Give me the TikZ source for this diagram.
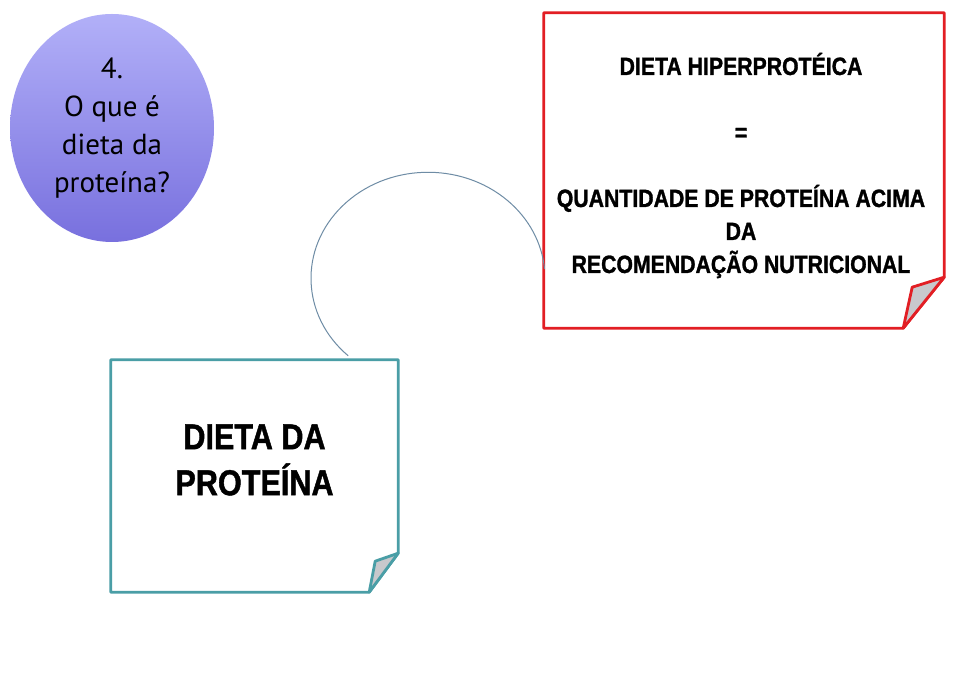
\documentclass[tikz,border=0pt]{standalone}
\usepackage{fontspec}
\setmainfont{Liberation Sans}
\newfontfamily\narrowfont[FakeStretch=0.85,BoldFeatures={FakeBold=1.2}]{Liberation Sans}
\newfontfamily\bubblefont{PT Sans}
\definecolor{bubbleTop}{RGB}{178,176,248}
\definecolor{bubbleBottom}{RGB}{120,112,222}
\definecolor{noteRed}{RGB}{226,30,36}
\definecolor{noteTeal}{RGB}{74,158,166}
\definecolor{foldGray}{RGB}{200,200,204}
\definecolor{arcBlue}{RGB}{110,140,165}
\usepackage{tikz}
\usetikzlibrary{shapes.geometric,positioning,calc}

\begin{document}
\begin{tikzpicture}[x=1pt,y=1pt,
    notebox/.style={rectangle,draw=none,inner sep=0pt},
    notetext/.style={align=center,font=\narrowfont\bfseries},
    fold/.style={fill=foldGray,line width=2.8pt,line join=round}]
        \useasboundingbox[fill=white] (0,0) rectangle (960,674);
        % question bubble
        \node[ellipse,minimum width=204,minimum height=228,inner sep=0pt,
          top color=bubbleTop,bottom color=bubbleBottom,
          font=\bubblefont\fontsize{29}{38}\selectfont,align=center]
          (question) at (112,546) {4.\\O que é\\dieta da\\proteína?};
        % red note
        \node[notebox,minimum width=400,minimum height=315] (redbox) at (744,503.5) {};
        \node[notetext,font=\narrowfont\bfseries\fontsize{25}{33}\selectfont]
          (redtext) at ([xshift=-3,yshift=5]redbox.center)
          {DIETA HIPERPROTÉICA\\[33pt]=\\[33pt]QUANTIDADE DE PROTEÍNA ACIMA\\DA\\RECOMENDAÇÃO NUTRICIONAL};
        \draw[noteRed,line width=2.8pt,line join=round] (redbox.south west) -- (redbox.north west)
          -- (redbox.north east) -- ([yshift=51]redbox.south east)
          -- ([xshift=-41]redbox.south east) -- cycle;
        \draw[fold,draw=noteRed] ([yshift=51]redbox.south east)
          -- ([xshift=-32,yshift=41]redbox.south east) -- ([xshift=-41]redbox.south east) -- cycle;
        % teal note
        \node[notebox,minimum width=287,minimum height=232] (tealbox) at (254.5,198) {};
        \node[notetext,font=\narrowfont\bfseries\fontsize{36}{46}\selectfont]
          (tealtext) at ([yshift=16]tealbox.center) {DIETA DA\\PROTEÍNA};
        \draw[noteTeal,line width=2.8pt,line join=round] (tealbox.south west) -- (tealbox.north west)
          -- (tealbox.north east) -- ([yshift=39]tealbox.south east)
          -- ([xshift=-29]tealbox.south east) -- cycle;
        \draw[fold,draw=noteTeal] ([yshift=39]tealbox.south east)
          -- ([xshift=-23,yshift=31]tealbox.south east) -- ([xshift=-29]tealbox.south east) -- cycle;
        % connector
        \coordinate (arcStart) at ([xshift=-50,yshift=4]tealbox.north east);
        \draw[arcBlue,line width=1pt] (arcStart)
          arc[start angle=227,end angle=5,x radius=117,y radius=106];
      \end{tikzpicture}
\end{document}
